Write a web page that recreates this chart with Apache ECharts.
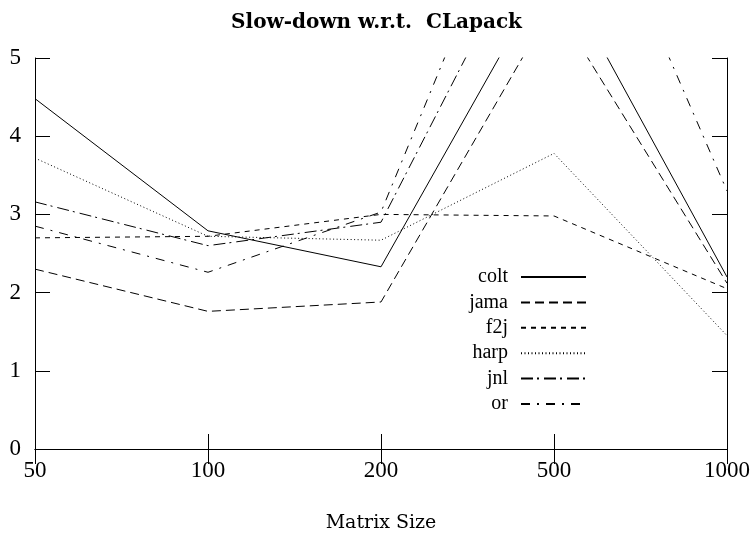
<!DOCTYPE html>
<html><head><meta charset="utf-8">
<script src="https://cdn.jsdelivr.net/npm/echarts@6/dist/echarts.min.js"></script>
<style>html,body{margin:0;padding:0;background:#fff}#c{width:753px;height:538px}</style>
</head><body><div id="c"></div>
<script>
const categories = ['50', '100', '200', '500', '1000'];
const yTicks = [0, 1, 2, 3, 4, 5];
const colt = [4.48, 2.79, 2.33, 6.25, 2.20];
const jama = [2.30, 1.76, 1.88, 5.70, 2.12];
const f2j  = [2.70, 2.72, 3.00, 2.98, 2.05];
const harp = [3.72, 2.72, 2.67, 3.78, 1.45];
const jnl  = [3.16, 2.60, 2.90, 7.20, 7.00];
const orr  = [2.85, 2.26, 3.03, 8.40, 3.30];

const FONT = '"Liberation Serif", "DejaVu Serif", serif';
const WIDE = '"DejaVu Serif", serif';
const chart = echarts.init(document.getElementById('c'), null, {renderer: 'canvas'});
function mk(name, data, type) {
  return {
    name: name, type: 'line', data: data, symbol: 'none', showSymbol: false,
    clip: true, animation: false,
    lineStyle: {color: '#000', width: 1, type: type},
    itemStyle: {color: '#000'}
  };
}
const axisLine = {show: true, lineStyle: {color: '#000', width: 1}};
chart.setOption({
  animation: false,
  title: {
    text: 'Slow-down w.r.t.  CLapack', left: 'center', top: 8,
    textStyle: {fontFamily: WIDE, fontSize: 20, fontWeight: 'bold', color: '#000'}
  },
  grid: {left: 35, right: 26, top: 58, bottom: 88},
  legend: {
    orient: 'vertical', right: 161, top: 262, align: 'right',
    itemWidth: 65, itemHeight: 14, itemGap: 5.4,
    itemStyle: {opacity: 0},
    textStyle: {fontFamily: FONT, fontSize: 20, lineHeight: 20, color: '#000', padding: [0, 8, 0, 0]},
    data: ['colt', 'jama', 'f2j', 'harp', 'jnl', 'or']
  },
  xAxis: [{
    type: 'category', data: categories, boundaryGap: false,
    name: 'Matrix Size', nameLocation: 'middle', nameGap: 65,
    nameTextStyle: {fontFamily: WIDE, fontSize: 19, color: '#000'},
    axisLine: axisLine,
    axisTick: {show: true, inside: true, length: 15, lineStyle: {color: '#000'}},
    axisLabel: {fontFamily: FONT, fontSize: 23, color: '#000', margin: 10},
    splitLine: {show: false}
  }, {
    type: 'category', data: categories, boundaryGap: false, position: 'top',
    axisLine: axisLine,
    axisTick: {show: true, inside: true, length: 15, lineStyle: {color: '#000'}},
    axisLabel: {show: false}, splitLine: {show: false}
  }],
  yAxis: [{
    type: 'value', min: yTicks[0], max: yTicks[yTicks.length - 1], interval: 1,
    axisLine: axisLine,
    axisTick: {show: true, inside: true, length: 15, lineStyle: {color: '#000'}},
    axisLabel: {fontFamily: FONT, fontSize: 23, color: '#000', margin: 14},
    splitLine: {show: false}
  }, {
    type: 'value', min: yTicks[0], max: yTicks[yTicks.length - 1], interval: 1, position: 'right',
    axisLine: axisLine,
    axisTick: {show: true, inside: true, length: 15, lineStyle: {color: '#000'}},
    axisLabel: {show: false}, splitLine: {show: false}
  }],
  series: [
    mk('colt', colt, 'solid'),
    mk('jama', jama, [9, 5]),
    mk('f2j', f2j, [5, 5]),
    mk('harp', harp, [1, 2.5]),
    mk('jnl', jnl, [12, 4, 2, 5]),
    mk('or', orr, [9, 7, 2, 7])
  ]
});
</script></body></html>
